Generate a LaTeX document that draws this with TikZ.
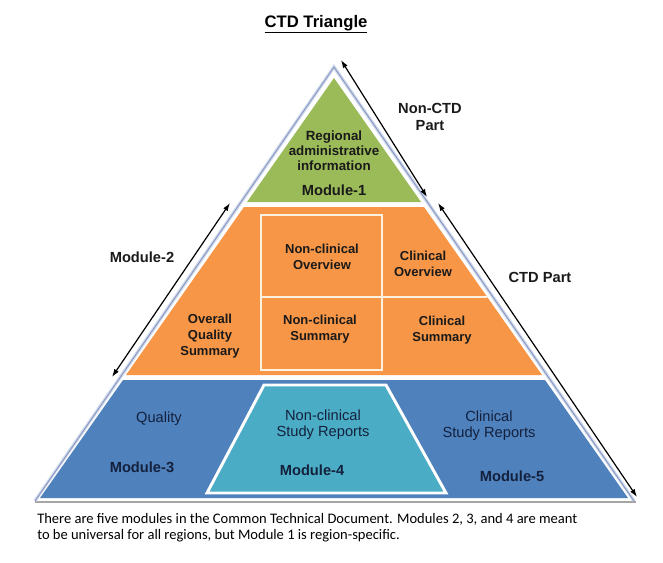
\documentclass[tikz,border=0pt]{standalone}
\usepackage{fontspec}
\setmainfont{Liberation Sans}
\newfontfamily\capfont{Carlito}
\usetikzlibrary{arrows.meta}
\definecolor{mgreen}{HTML}{9BBB59}
\definecolor{morange}{HTML}{F79646}
\definecolor{mblue}{HTML}{4F81BD}
\definecolor{mteal}{HTML}{4BACC6}
\definecolor{outl}{HTML}{8E9CC4}
\definecolor{outlight}{HTML}{D3DDEF}
\definecolor{baseg}{HTML}{A6A6A6}
\definecolor{boxw}{HTML}{FDF1E2}
\definecolor{navy}{HTML}{14213D}
\definecolor{dk}{HTML}{1A1A1A}
\tikzset{
  lbl/.style={font=\bfseries\fontsize{9.75}{12.2}\selectfont, text=dk, align=center, inner sep=0pt},
  greenlbl/.style={font=\bfseries\fontsize{10}{11.4}\selectfont, text=dk, align=center, inner sep=0pt},
  modlbl/.style={font=\bfseries\fontsize{11}{13}\selectfont, text=dk, align=center, inner sep=0pt},
  bluelbl/.style={font=\fontsize{11}{12}\selectfont, text=navy, align=center, inner sep=0pt},
  bluemod/.style={font=\bfseries\fontsize{11}{13}\selectfont, text=navy, inner sep=0pt},
  dimarrow/.style={{Latex[length=6pt,width=4pt]}-{Latex[length=6pt,width=4pt]}, line width=0.9pt, black},
}
\begin{document}
\begin{tikzpicture}[x=0.75pt,y=-0.75pt]
\useasboundingbox (0,0) rectangle (663,562);
% outline of the whole triangle
\draw[outlight, line width=2.6pt, line join=miter] (35,501) -- (334,67) -- (634,501);
\draw[outl, line width=0.8pt, line join=miter] (35,501) -- (334,67) -- (634,501);
\draw[white, line width=1.5pt] (40,498) -- (334,76) -- (629,498);
\draw[baseg, line width=2.2pt] (35,502) -- (636,502);
% layers
\fill[mgreen] (334,78) -- (421,202) -- (247,202) -- cycle;
\fill[morange] (244,207) -- (424,207) -- (542,375) -- (126,375) -- cycle;
\fill[mblue] (123,380) -- (545,380) -- (628,498) -- (40,498) -- cycle;
% module-2 inner box
\draw[boxw, line width=1.9pt] (261,215) rectangle (382,370);
\draw[boxw, line width=1.9pt] (261,297) -- (487,297);
% module-4 trapezoid
\draw[white, line width=2.2pt, fill=mteal] (207,493) -- (264,385) -- (386,385) -- (446,493) -- cycle;
% title
\node[anchor=base, font=\bfseries\fontsize{12.5}{15}\selectfont] (title) at (316,27) {\underline{CTD Triangle}};
% module-1
\node[greenlbl] (reg) at (334,151) {Regional\\administrative\\information};
\node[modlbl] (m1) at (334,190) {Module-1};
% module-2
\node[lbl] (nco) at (322,257) {Non-clinical\\Overview};
\node[lbl] (co) at (423,264) {Clinical\\Overview};
\node[lbl] (oqs) at (210,336) {Overall\\Quality\\Summary};
\node[lbl] (ncs) at (320,329) {Non-clinical\\Summary};
\node[lbl] (cs) at (442,330) {Clinical\\Summary};
% module 3-5
\node[bluelbl] (qual) at (159,419) {Quality};
\node[bluemod] (m3) at (142,467) {Module-3};
\node[bluelbl] (ncsr) at (323,425) {Non-clinical\\Study Reports};
\node[bluemod] (m4) at (312,470) {Module-4};
\node[bluelbl] (csr) at (489,426) {Clinical\\Study Reports};
\node[bluemod] (m5) at (512,476) {Module-5};
% side labels
\node[modlbl] (noncl) at (430,117) {Non-CTD\\Part};
\node[modlbl] (ctdl) at (540,277) {CTD Part};
\node[modlbl] (m2l) at (142,257) {Module-2};
% dimension arrows
\coordinate (nA) at (341,60);
\coordinate (nB) at (427,197);
\coordinate (cA) at (438,203);
\coordinate (cB) at (637,497);
\coordinate (mA) at (230,203);
\coordinate (mB) at (112,377);
\draw[dimarrow] (nA) -- (nB);
\draw[dimarrow] (cA) -- (cB);
\draw[dimarrow] (mA) -- (mB);
% caption
\node[anchor=north west, align=left, inner sep=0pt, text=black,
      font=\capfont\fontsize{10.9}{12.4}\selectfont] (cap) at (37,513)
  {There are five modules in the Common Technical Document. Modules 2, 3, and 4 are meant\\to be universal for all regions, but Module 1 is region-specific.};
\end{tikzpicture}
\end{document}
